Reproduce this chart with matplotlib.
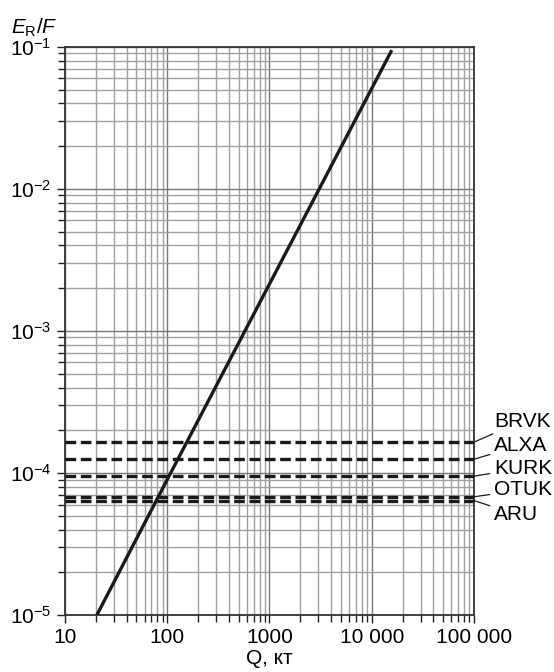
import numpy as np
import matplotlib
matplotlib.use("Agg")
import matplotlib.pyplot as plt
from matplotlib.ticker import LogLocator, NullFormatter

plt.rcParams['font.family'] = ['Liberation Sans', 'DejaVu Sans']
plt.rcParams['mathtext.fontset'] = 'custom'
plt.rcParams['mathtext.rm'] = 'Liberation Sans'
plt.rcParams['mathtext.it'] = 'Liberation Sans:italic'

# E_R/F versus yield Q (kt)
q_kt = [20.5, 104, 15700]
er_f = [1.0e-5, 9.5e-5, 9.5e-2]

# station levels
stations = ['BRVK', 'ALXA', 'KURK', 'OTUK', 'ARU']
levels = [1.65e-4, 1.25e-4, 9.5e-5, 6.8e-5, 6.4e-5]

x_ticks = [10, 100, 1000, 10000, 100000]
x_labels = ['10', '100', '1000', '10 000', '100 000']

fig = plt.figure(figsize=(5.54, 6.72), dpi=100)
ax = fig.add_axes([0.1173, 0.0848, 0.7383, 0.8453])
ax.set_xscale('log')
ax.set_yscale('log')
ax.set_xlim(10, 1e5)
ax.set_ylim(1e-5, 1e-1)

ax.set_axisbelow(True)
ax.grid(which='major', color='#777777', lw=1.0)
ax.grid(which='minor', color='#a0a0a0', lw=1.0)
ax.xaxis.set_minor_locator(LogLocator(base=10, subs=np.arange(2, 10), numticks=20))
ax.yaxis.set_minor_locator(LogLocator(base=10, subs=np.arange(2, 10), numticks=20))
ax.xaxis.set_minor_formatter(NullFormatter())
ax.yaxis.set_minor_formatter(NullFormatter())
ax.set_xticks(x_ticks)
ax.set_xticklabels(x_labels)
ax.tick_params(which='both', direction='out', color='#222222', labelsize=15)
ax.tick_params(which='major', length=6, width=1.0)
ax.tick_params(which='minor', length=5, width=1.0)
for s in ax.spines.values():
    s.set_color('#333333')
    s.set_linewidth(1.3)

ax.plot(q_kt, er_f, color='#1a1a1a', lw=2.4, solid_capstyle='butt', zorder=4)

# offsets of the station labels, pixels from the right end of each line
label_dy = [21, 14, 8, 7, -14]
for name, lev, dy in zip(stations, levels, label_dy):
    ln, = ax.plot([10, 1e5], [lev, lev], color='#1a1a1a', lw=2.4, zorder=3)
    ln.set_dashes([3.2, 1.4])
    ax.annotate(name, xy=(1e5, lev), xytext=(20, dy), textcoords='offset pixels',
                ha='left', va='center', fontsize=15, annotation_clip=False,
                arrowprops=dict(arrowstyle='-', color='#1a1a1a', lw=0.9,
                                shrinkA=1, shrinkB=0))

ax.set_xlabel('Q, кт', fontsize=15, labelpad=1)
fig.text(0.02, 0.975, r'$E_\mathrm{R}/F$', fontsize=15, ha='left', va='top')

fig.savefig('out.png', dpi=100)
